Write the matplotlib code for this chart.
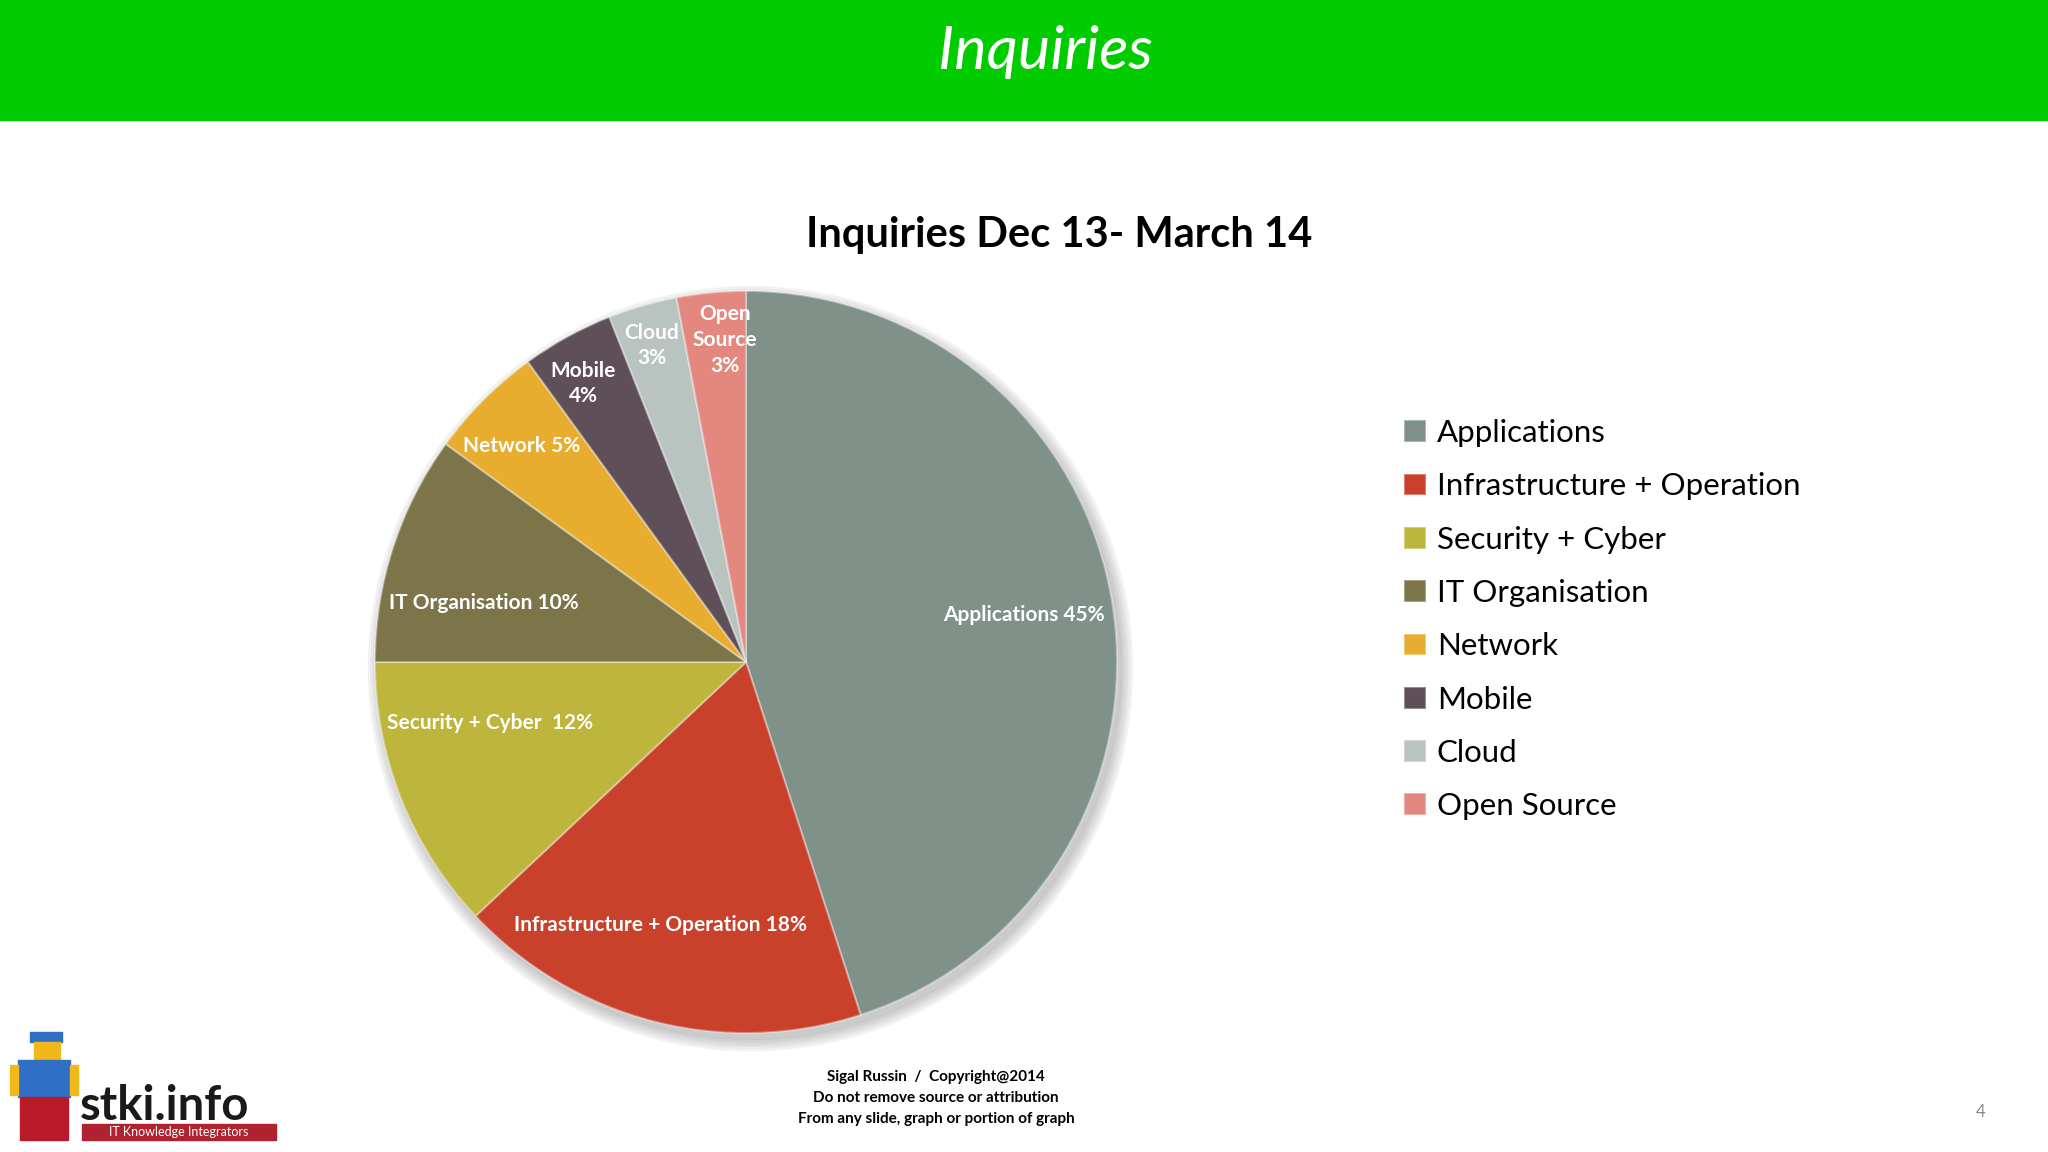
import matplotlib.pyplot as plt
from matplotlib.patches import Rectangle, Circle
import numpy as np

plt.rcParams['font.family'] = ['Lato', 'DejaVu Sans']

# donnees du graphique
categories = ['Applications', 'Infrastructure + Operation', 'Security + Cyber', 'IT Organisation',
              'Network', 'Mobile', 'Cloud', 'Open Source']
values = [45, 18, 12, 10, 5, 4, 3, 3]
slice_labels = ['Applications 45%', 'Infrastructure + Operation 18%', 'Security + Cyber  12%',
                'IT Organisation 10%', 'Network 5%', 'Mobile\n4%', 'Cloud\n3%', 'Open\nSource\n3%']
colors = ['#80918a', '#c9402b', '#bdb53c', '#7b7549', '#e8ad2f', '#5f4f59', '#b9c3bf', '#e3877f']
# placement des etiquettes (distance au centre, decalage d'angle en degres)
label_dist = [0.76, 0.745, 0.71, 0.725, 0.84, 0.87, 0.89, 0.87]
label_shift = [0.6, -3.6, -8.1, 5.4, 1.0, 1.5, 0.4, -1.7]

W, H = 2048, 1152
fig = plt.figure(figsize=(W / 100, H / 100), dpi=100)
fig.patch.set_facecolor('white')

def fx(x):
    return x / W

def fy(y):
    return 1 - y / H

# bandeau vert
fig.patches.append(Rectangle((0, fy(120)), 1, 120 / H, transform=fig.transFigure,
                             color='#00cc00', zorder=0))
fig.text(fx(1045), fy(52), 'Inquiries', color='white', fontsize=44, style='italic',
         ha='center', va='center')

# titre
fig.text(fx(1059), fy(235), 'Inquiries Dec 13- March 14', fontsize=30, fontweight='bold',
         ha='center', va='center', color='black')

# camembert
cx, cy, r = 746, 662, 371
ax = fig.add_axes([fx(cx - r), fy(cy + r), 2 * r / W, 2 * r / H])

# ombre
for i in range(6):
    ax.add_patch(Circle((0.012, -0.018), 1.0 + i * 0.006, color='black', alpha=0.035,
                        zorder=0, clip_on=False))

wedges, _ = ax.pie(values, colors=colors, startangle=90, counterclock=False, radius=1,
                   wedgeprops=dict(edgecolor=(1, 1, 1, 0.35), linewidth=1.5))
for w in wedges:
    w.set_zorder(2)
    w.set_clip_on(False)
ax.set_xlim(-1, 1)
ax.set_ylim(-1, 1)
ax.axis('off')

# etiquettes dans les parts
total = sum(values)
start = 90.0
for v, lab, d, s in zip(values, slice_labels, label_dist, label_shift):
    span = 360.0 * v / total
    mid = np.deg2rad(start - span / 2 + s)
    start -= span
    ax.text(d * np.cos(mid), d * np.sin(mid), lab, color='white', fontsize=15,
            fontweight='bold', ha='center', va='center', linespacing=1.35, zorder=3)

# legende
fig.legend(wedges, categories, loc='upper left', bbox_to_anchor=(fx(1376), fy(391)),
           frameon=False, fontsize=22.5, handlelength=0.7, handleheight=0.7,
           handletextpad=0.35, labelspacing=0.81)

# pied de page
fig.text(fx(936), fy(1077), 'Sigal Russin  /  Copyright@2014', fontsize=11, fontweight='bold',
         ha='center', va='center')
fig.text(fx(936), fy(1098), 'Do not remove source or attribution', fontsize=11, fontweight='bold',
         ha='center', va='center')
fig.text(fx(936), fy(1119), 'From any slide, graph or portion of graph', fontsize=11,
         fontweight='bold', ha='center', va='center')
fig.text(fx(1981), fy(1112), '4', fontsize=12, color='#888888', ha='center', va='center')

# logo stki.info (simplifie)
def box(x0, y0, x1, y1, c):
    fig.patches.append(Rectangle((fx(x0), fy(y1)), (x1 - x0) / W, (y1 - y0) / H,
                                 transform=fig.transFigure, color=c, zorder=1))

box(30, 1032, 62, 1042, '#2f6fc6')
box(34, 1042, 60, 1060, '#f2b81a')
box(18, 1060, 70, 1097, '#2f6fc6')
box(10, 1065, 18, 1095, '#f2b81a')
box(70, 1065, 78, 1095, '#f2b81a')
box(20, 1097, 68, 1140, '#b81a2a')
fig.text(fx(80), fy(1120), 'stki.info', fontsize=34, fontweight='bold', color='#1a1a1a',
         ha='left', va='baseline')
box(82, 1124, 276, 1140, '#b0222f')
fig.text(fx(179), fy(1132), 'IT Knowledge Integrators', fontsize=9, color='white',
         ha='center', va='center')

fig.savefig('out.png', dpi=100)
